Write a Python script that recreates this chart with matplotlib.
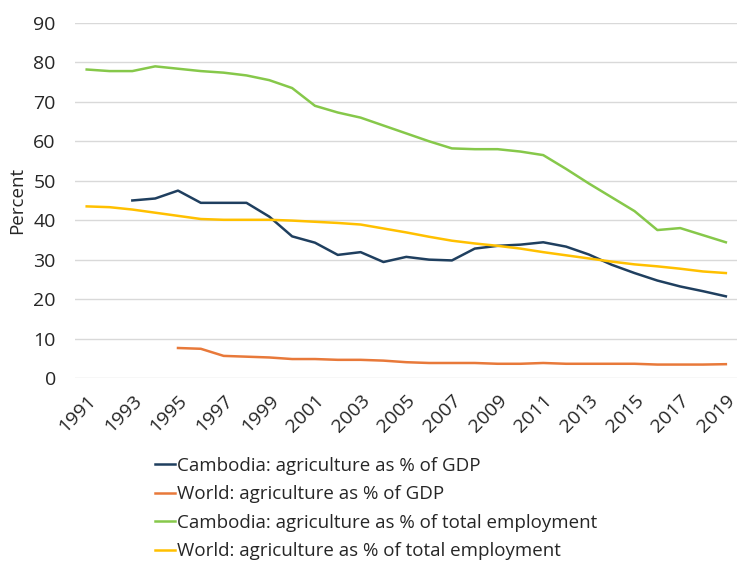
import matplotlib.pyplot as plt
import numpy as np

years = list(range(1991, 2020))

# Cambodia: agriculture as % of GDP (from 1993)
kh_gdp_years = list(range(1993, 2020))
kh_gdp = [45.0, 45.5, 47.5, 44.4, 44.4, 44.4, 40.9, 35.9, 34.3, 31.2, 31.9, 29.4,
          30.7, 30.0, 29.8, 32.8, 33.5, 33.8, 34.4, 33.3, 31.3, 28.7, 26.6, 24.7,
          23.2, 22.0, 20.7]

# World: agriculture as % of GDP (from 1995)
world_gdp_years = list(range(1995, 2020))
world_gdp = [7.6, 7.4, 5.6, 5.4, 5.2, 4.8, 4.8, 4.6, 4.6, 4.4, 4.0, 3.8, 3.8, 3.8,
             3.6, 3.6, 3.8, 3.6, 3.6, 3.6, 3.6, 3.4, 3.4, 3.4, 3.5]

# Cambodia: agriculture as % of total employment
kh_emp = [78.2, 77.8, 77.8, 79.0, 78.4, 77.8, 77.4, 76.7, 75.5, 73.5, 69.0, 67.3,
          66.0, 64.0, 62.0, 60.0, 58.2, 58.0, 58.0, 57.4, 56.5, 53.0, 49.3, 45.8,
          42.3, 37.5, 38.0, 36.2, 34.4]

# World: agriculture as % of total employment
world_emp = [43.5, 43.3, 42.7, 41.9, 41.1, 40.3, 40.1, 40.1, 40.1, 39.9, 39.6, 39.3,
             38.9, 37.9, 36.9, 35.8, 34.8, 34.1, 33.5, 32.8, 31.9, 31.1, 30.3, 29.5,
             28.8, 28.3, 27.7, 27.0, 26.6]

labels = [
    "Cambodia: agriculture as % of GDP",
    "World: agriculture as % of GDP",
    "Cambodia: agriculture as % of total employment",
    "World: agriculture as % of total employment",
]

plt.rcParams["font.family"] = ["Open Sans", "DejaVu Sans"]
text_color = "#262626"

fig = plt.figure(figsize=(7.38, 5.74), dpi=100)
ax = fig.add_axes([0.102, 0.3415, 0.897, 0.6185])

lw = 1.8
ax.plot(kh_gdp_years, kh_gdp, color="#1f3f5f", lw=lw, label=labels[0])
ax.plot(world_gdp_years, world_gdp, color="#e8793a", lw=lw, label=labels[1])
ax.plot(years, kh_emp, color="#86c84a", lw=lw, label=labels[2])
ax.plot(years, world_emp, color="#ffc000", lw=lw, label=labels[3])

ax.set_xlim(1990.5, 2019.5)
ax.set_ylim(0, 90)
ax.set_yticks(np.arange(0, 91, 10))
ax.set_xticks(years[::2])
ax.set_xticklabels([str(y) for y in years[::2]], rotation=45, ha="right",
                   rotation_mode="anchor")
ax.grid(axis="y", color="#d9d9d9", lw=1)
ax.set_axisbelow(True)
for s in ax.spines.values():
    s.set_visible(False)
ax.tick_params(length=0, labelsize=14, colors=text_color)
ax.tick_params(axis="y", pad=14)
ax.tick_params(axis="x", pad=10)
ax.set_ylabel("Percent", fontsize=13.5, color=text_color, labelpad=5)

fig.legend(loc="upper left", bbox_to_anchor=(0.2, 0.217), frameon=False,
           fontsize=13.5, handlelength=1.07, handletextpad=0.12, labelspacing=0.56,
           labelcolor=text_color, borderaxespad=0)

fig.savefig("out.png", dpi=100)
